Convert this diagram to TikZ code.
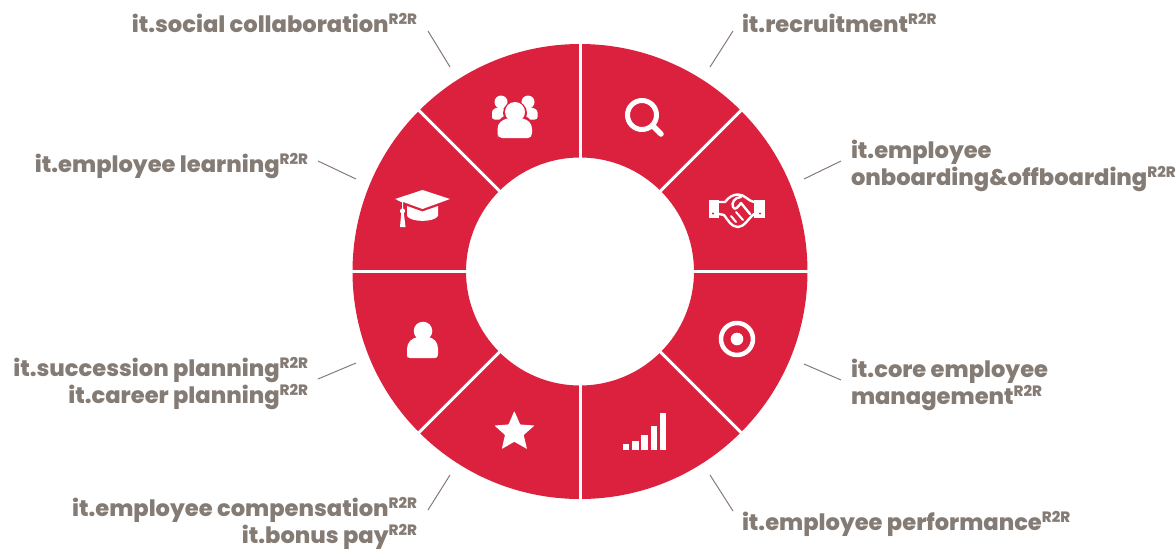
\documentclass[tikz,border=0pt]{standalone}
\usepackage{fontspec}
\usetikzlibrary{calc}
\setmainfont{Poppins}[BoldFont={Poppins ExtraBold}]
\definecolor{ringred}{HTML}{DB213D}
\definecolor{labgray}{HTML}{857B75}
\newcommand{\rtr}{\raisebox{8pt}{\fontsize{15}{15}\selectfont R2R}}
\tikzset{
  lab/.style={inner sep=0pt,outer sep=0pt,text=labgray,yshift=1pt,font=\fontsize{22.6}{24}\selectfont\bfseries},
  labl/.style={lab,anchor=base west},
  labr/.style={lab,anchor=base east},
  lead/.style={draw=labgray,line width=1pt},
  icon/.style={fill=white,draw=none},
  iconline/.style={draw=white,fill=none,line cap=round,line join=round},
  gap/.style={draw=white,line width=3pt},
}
\begin{document}
\begin{tikzpicture}[x=1pt,y=-1pt]
\useasboundingbox (0,0) rectangle (1176,550);
\coordinate (c) at (580,271.5);
% ring
\fill[ringred,even odd rule] (c) circle[radius=227.5] (c) circle[radius=114];
\foreach \a in {0,45,90,135}{
  \draw[gap] ($(c)+(\a:112)$) -- ($(c)+(\a:230)$);
  \draw[gap] ($(c)+(\a+180:112)$) -- ($(c)+(\a+180:230)$);
}
% magnifier
\draw[iconline,line width=5pt] (642,115) circle[radius=14.5];
\draw[iconline,line width=5.5pt] (652.5,125.5) -- (661,134);
% handshake
\fill[icon] (709,200) rectangle (719,217.5);
\fill[icon] (754,200) rectangle (764.5,217.5);
\fill[ringred] (713,213.5) circle[radius=1.2] (760,213.5) circle[radius=1.2];
\draw[iconline,line width=2.4pt] (719,202) -- (725,202) .. controls (729,197) and (733,194.5) .. (738,194.5)
  .. controls (745,194.5) and (748,201) .. (754,202);
\draw[iconline,line width=2.4pt] (719,214) -- (724,215) .. controls (728,220) and (731,227) .. (738,227)
  .. controls (744,227) and (748,219) .. (754,214);
\draw[iconline,line width=2.4pt] (741,197) .. controls (735,197) and (731,203) .. (733,207)
  .. controls (735,211) and (738,207) .. (741,203) -- (750,214);
\draw[iconline,line width=2pt] (731,216) -- (736,222) (736,212) -- (743,220);
% target
\draw[iconline,line width=4.5pt] (737,339) circle[radius=16];
\fill[icon] (737,339) circle[radius=6.3];
% bars
\fill[icon] (623,444) rectangle (629,450);
\fill[icon] (632,441) rectangle (639,450);
\fill[icon] (641,435) rectangle (648,450);
\fill[icon] (651,426) rectangle (657,450);
\fill[icon] (660,413) rectangle (666,450);
% star
\fill[icon,rounded corners=0.6pt] (514.3,411)
  -- (520.2,424.5) -- (534.5,425.5) -- (523.7,435) -- (527,449)
  -- (514.3,441.7) -- (501.8,449) -- (505,435) -- (494.5,425.5) -- (508.5,424.5) -- cycle;
% person
\fill[icon] (407,358) -- (407,349) .. controls (407,342) and (412,338) .. (418,337)
  .. controls (420,340.5) and (426,340.5) .. (428,337)
  .. controls (434,338) and (438,342) .. (438,349) -- (438,354) .. controls (438,357) and (437,358) .. (435,358) -- (410,358)
  .. controls (408,358) and (407,357) .. (407,354) -- cycle;
\fill[icon] (423,331) circle[radius=9.3];
% group
\fill[icon] (501,102) circle[radius=6.5];
\fill[icon] (528,102) circle[radius=6.5];
\fill[icon,rounded corners=2.5pt] (492,119.5) -- (492,110) -- (498,107) -- (506,109) -- (506,119.5) -- cycle;
\fill[icon,rounded corners=2.5pt] (524,119.5) -- (524,109) -- (531,107) -- (537.5,110) -- (537.5,119.5) -- cycle;
\fill[ringred] (515,113) circle[radius=12];
\fill[ringred,rounded corners=3pt] (495,139) -- (495,125) -- (503,116) -- (527,116) -- (534,125) -- (534,139) -- cycle;
\fill[icon] (515,112) circle[radius=10];
\fill[icon] (497.5,138) -- (497.5,129) .. controls (497.5,123) and (502,120) .. (507,118.5)
  .. controls (510,122) and (520,122) .. (523,118.5)
  .. controls (528,120) and (532,123) .. (532,129) -- (532,133) .. controls (532,136) and (530.5,138) .. (528,138) -- (502,138)
  .. controls (499,138) and (497.5,136) .. (497.5,133) -- cycle;
% mortarboard
\fill[icon] (395,199) -- (422.5,190) -- (450,199) -- (422.5,209) -- cycle;
\fill[icon] (407,206) -- (422.5,211.5) -- (438,206) -- (438,216) .. controls (434,222.5) and (411,222.5) .. (407,216) -- cycle;
\draw[iconline,line width=1pt] (398,200) -- (402.5,202) -- (402.5,212);
\fill[icon] (402.5,211) circle[radius=2.6];
\fill[icon] (400,227) -- (401.3,212) -- (403.7,212) -- (405.5,227) -- cycle;
% labels
\node[labr] (social) at (417,33) {it.social collaboration\rtr};
\node[labl] (recruit) at (742,33) {it.recruitment\rtr};
\node[labl] (onb1) at (851,159) {it.employee};
\node[labl] (onb2) at (851,186) {onboarding\&offboarding\rtr};
\node[labr] (learn) at (308,173) {it.employee learning\rtr};
\node[labr] (succ) at (308,377) {it.succession planning\rtr};
\node[labr] (career) at (308,404) {it.career planning\rtr};
\node[labl] (core1) at (851,378) {it.core employee};
\node[labl] (core2) at (851,405) {management\rtr};
\node[labr] (comp) at (417,517) {it.employee compensation\rtr};
\node[labr] (bonus) at (417,544) {it.bonus pay\rtr};
\node[labl] (perf) at (742,531) {it.employee performance\rtr};
% leaders
\coordinate (a1) at (428,31); \coordinate (a2) at (450,67);
\coordinate (b1) at (733,31); \coordinate (b2) at (710,67);
\coordinate (d1) at (841,161); \coordinate (d2) at (804,179);
\coordinate (e1) at (841,380); \coordinate (e2) at (804,364);
\coordinate (f1) at (733,511); \coordinate (f2) at (710,475);
\coordinate (g1) at (428,510); \coordinate (g2) at (450,475);
\coordinate (h1) at (318,379); \coordinate (h2) at (356,363);
\coordinate (i1) at (318,161); \coordinate (i2) at (356,179);
\foreach \p/\q in {a1/a2,b1/b2,d1/d2,e1/e2,f1/f2,g1/g2,h1/h2,i1/i2}{\draw[lead] (\p) -- (\q);}
\end{tikzpicture}
\end{document}
